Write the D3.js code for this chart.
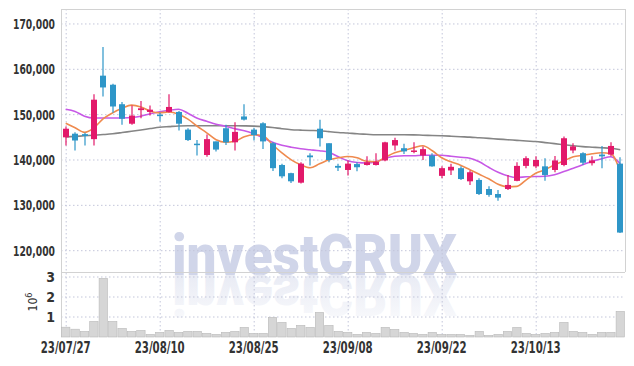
<!DOCTYPE html>
<html><head><meta charset="utf-8">
<script src="https://cdn.jsdelivr.net/npm/d3@7"></script>
<style>html,body{margin:0;padding:0;background:#fff;} svg{display:block}</style>
</head><body>
<svg id="c" width="634" height="366"></svg>
<script>
const dates = ["23/07/27","23/07/28","23/07/31","23/08/01","23/08/02","23/08/03","23/08/04","23/08/07","23/08/08","23/08/09",
"23/08/10","23/08/11","23/08/14","23/08/16","23/08/17","23/08/18","23/08/21","23/08/22","23/08/23","23/08/24",
"23/08/25","23/08/28","23/08/29","23/08/30","23/08/31","23/09/01","23/09/04","23/09/05","23/09/06","23/09/07",
"23/09/08","23/09/11","23/09/12","23/09/13","23/09/14","23/09/15","23/09/18","23/09/19","23/09/20","23/09/21",
"23/09/22","23/09/25","23/09/26","23/09/27","23/10/04","23/10/05","23/10/06","23/10/10","23/10/11","23/10/12",
"23/10/13","23/10/16","23/10/17","23/10/18","23/10/19","23/10/20","23/10/23","23/10/24","23/10/25","23/10/26"];
const open  = [145000,145800,145700,144600,158600,156600,152300,148000,151000,150600,150000,150600,150600,146700,143600,141100,144100,147000,143900,149600,146700,148100,143700,138900,137100,135000,141000,146900,143700,138700,137800,139100,138900,138900,139900,143200,142600,141800,141000,141000,136500,137700,138200,135300,135600,133600,132500,133600,135400,138700,138600,138600,137800,138900,142100,141500,139300,141200,141200,139200];
const high  = [147400,146100,146000,154500,164900,156800,152800,152000,153000,152000,150400,154500,150800,147000,144400,145600,144100,147800,148300,152300,147100,148300,143900,139200,137200,139500,141500,148900,143700,139200,139900,139500,140800,141500,144000,144900,143600,143900,143000,141500,138600,139200,138600,137700,136000,134200,133400,136700,139500,140800,140800,140400,140900,145200,143700,141700,140800,143100,143900,140600];
const low   = [143200,142100,143200,143200,154000,150400,147800,147800,149200,149800,148500,150400,146500,144200,141000,140700,141900,143300,142100,148700,144300,142400,137600,136000,134900,134800,138800,143000,139500,137600,136600,137500,138800,138800,139700,142100,141300,141500,140000,138500,136000,136700,135600,134500,132300,131900,131000,133400,135300,138200,138200,135400,137300,138600,141500,138900,138800,138200,140800,123900];
const close = [146900,144300,145300,153300,156000,151800,149100,149800,151400,151100,149700,151700,148000,144400,143300,144600,142300,143900,146200,148900,145500,144100,138200,136400,135300,139200,140600,144800,140000,138300,139200,138400,139500,139600,143900,144400,141900,142100,142400,138600,138200,138500,135800,137300,132500,132300,131700,134500,138700,140400,140000,136700,139900,144800,143000,139400,139900,140800,143100,124000];
const volume = [0.49,0.39,0.28,0.78,2.93,0.78,0.43,0.28,0.33,0.13,0.23,0.33,0.23,0.28,0.28,0.18,0.13,0.23,0.28,0.48,0.18,0.18,0.98,0.73,0.43,0.58,0.48,1.23,0.58,0.28,0.23,0.13,0.23,0.18,0.48,0.38,0.23,0.18,0.13,0.23,0.13,0.13,0.13,0.08,0.28,0.08,0.13,0.28,0.48,0.18,0.13,0.18,0.23,0.73,0.28,0.23,0.13,0.23,0.23,1.28];
const ma5  = [148100,147100,146100,147100,149100,150400,151400,152100,151700,150750,150400,150600,150100,149000,147440,146000,144460,143900,144130,145120,145560,145340,143360,141590,140040,138940,138280,139160,140040,140490,140770,140490,139710,139600,140600,141590,142140,142690,143130,142030,140490,139600,138830,137840,136840,135850,134640,134080,134190,135630,137060,137840,138940,139820,140710,141040,141370,141590,141370,137400];
const ma20 = [151190,150710,149650,149250,149250,149250,149270,149360,149650,150200,150640,150970,151190,150310,149210,148540,147880,147440,146890,146450,145780,144900,143910,143250,142810,142470,142250,142030,141700,140710,139820,139450,139340,139600,140380,140820,140930,140930,141040,141040,141040,140820,140600,140380,139600,138390,137280,136510,136140,136290,136360,136400,136730,137460,138170,138940,139710,140260,140710,139160];
const ma60 = [145080,145210,145340,145470,145610,145780,146050,146340,146620,146930,147220,147370,147510,147550,147550,147550,147550,147550,147550,147530,147480,147350,147170,146890,146670,146580,146510,146450,146250,146070,145940,145780,145670,145560,145560,145560,145560,145540,145470,145410,145340,145250,145140,145050,144900,144770,144610,144480,144330,144190,144080,143840,143620,143360,143130,142940,142820,142710,142580,142250];
const priceTicks = [120000,130000,140000,150000,160000,170000];
const volumeTicks = [1,2,3];
const xTickDates = ["23/07/27","23/08/10","23/08/25","23/09/08","23/09/22","23/10/13"];

const L=61, R=625, T=9, PB=272, VB=337;
const FONT = "'DejaVu Sans Condensed','DejaVu Sans',sans-serif";
const UP="#e2196a", DOWN="#2e96c8";
const svg = d3.select('#c');
const x = d3.scaleBand().domain(dates).range([L,R]).padding(0);
const cx = d => x(d) + x.bandwidth()/2;
const y = d3.scaleLinear().domain([115300,173300]).range([PB,T]);
const yv = d3.scaleLinear().domain([0,3.25]).range([VB,PB]);

const defs = svg.append('defs');
defs.append('clipPath').attr('id','pclip').append('rect').attr('x',L).attr('y',T).attr('width',R-L).attr('height',PB-T);
const g = defs.append('linearGradient').attr('id','refl').attr('x1',0).attr('y1',0).attr('x2',0).attr('y2',1);
g.append('stop').attr('offset','0%').attr('stop-color','#e4e7f2').attr('stop-opacity',0.15);
g.append('stop').attr('offset','100%').attr('stop-color','#e4e7f2').attr('stop-opacity',1);

// watermark
const wm = svg.append('g');
wm.append('text').attr('x',172).attr('y',275).attr('textLength',285).attr('lengthAdjust','spacingAndGlyphs')
  .attr('font-family',"Roboto, 'DejaVu Sans', sans-serif").attr('font-weight',900).attr('font-size',58)
  .attr('fill','#d0d5e9').text('investCRUX');
wm.append('text').attr('x',172).attr('y',-275).attr('transform','scale(1,-1)').attr('textLength',285).attr('lengthAdjust','spacingAndGlyphs')
  .attr('font-family',"Roboto, 'DejaVu Sans', sans-serif").attr('font-weight',900).attr('font-size',58)
  .attr('fill','url(#refl)').text('investCRUX');

// grids
const gridC = '#c3c6da';
const grid = svg.append('g');
grid.selectAll('.hp').data(priceTicks).join('line').attr('x1',L).attr('x2',R).attr('y1',d=>y(d)).attr('y2',d=>y(d))
  .attr('stroke',gridC).attr('stroke-dasharray','1.5,2.5');
grid.selectAll('.hv').data(volumeTicks).join('line').attr('x1',L).attr('x2',R).attr('y1',d=>yv(d)).attr('y2',d=>yv(d))
  .attr('stroke',gridC).attr('stroke-dasharray','1.5,2.5');
grid.selectAll('.vv').data(xTickDates).join('line').attr('x1',d=>cx(d)+0.5).attr('x2',d=>cx(d)+0.5).attr('y1',T).attr('y2',VB)
  .attr('stroke',gridC).attr('stroke-dasharray','1.5,2.5');

// frame
const fr = svg.append('g').attr('stroke','#d2d2d2').attr('fill','none');
fr.append('line').attr('x1',L+0.5).attr('x2',L+0.5).attr('y1',T).attr('y2',VB);
fr.append('line').attr('x1',R+0.5).attr('x2',R+0.5).attr('y1',T).attr('y2',PB);
fr.append('line').attr('x1',L).attr('x2',R).attr('y1',T+0.5).attr('y2',T+0.5);
fr.append('line').attr('x1',L).attr('x2',R).attr('y1',PB+0.5).attr('y2',PB+0.5);

// axes labels
const ya = svg.append('g').attr('transform',`translate(${L-6},0)`)
  .call(d3.axisLeft(y).tickValues(priceTicks).tickSize(0).tickPadding(0).tickFormat(d3.format(',')));
const yva = svg.append('g').attr('transform',`translate(${L-6},0)`)
  .call(d3.axisLeft(yv).tickValues(volumeTicks).tickSize(0).tickPadding(0).tickFormat(d3.format('d')));
const xa = svg.append('g').attr('transform',`translate(0,${VB})`)
  .call(d3.axisBottom(x).tickValues(xTickDates).tickSize(0).tickPadding(5));
[ya,yva,xa].forEach(a=>{ a.select('.domain').remove();
  a.selectAll('text').attr('font-family',FONT).attr('font-size',14).attr('font-weight','bold')
   .style('font-stretch','condensed').attr('fill','#333'); });
ya.selectAll('text').attr('textLength',42).attr('lengthAdjust','spacingAndGlyphs');
xa.selectAll('text').attr('dy','0.71em').attr('font-size',15).attr('textLength',50).attr('lengthAdjust','spacingAndGlyphs');

svg.append('text').attr('transform','translate(37,302) rotate(-90)').attr('text-anchor','middle')
  .attr('font-family',FONT).attr('font-size',12).attr('fill','#333')
  .html('10<tspan dy="-5" font-size="9">6</tspan>');

// volume bars
svg.append('g').selectAll('rect').data(dates).join('rect')
  .attr('x',d=>x(d)+0.5).attr('width',x.bandwidth()-1)
  .attr('y',(d,i)=>yv(volume[i])).attr('height',(d,i)=>yv(0)-yv(volume[i]))
  .attr('fill','#d6d6d6').attr('stroke','#b9b9b9').attr('stroke-width',0.6);

// MA lines
const pc = svg.append('g').attr('clip-path','url(#pclip)');
const line = arr => d3.line().x((d,i)=>cx(dates[i])).y(d=>y(d)).curve(d3.curveMonotoneX)(arr);
pc.append('path').attr('d',line(ma60)).attr('fill','none').attr('stroke','#858585').attr('stroke-width',1.6);
pc.append('path').attr('d',line(ma20)).attr('fill','none').attr('stroke','#c758e6').attr('stroke-width',1.6);
pc.append('path').attr('d',line(ma5)).attr('fill','none').attr('stroke','#ef8a4e').attr('stroke-width',1.6);

// candles
const bw = 6;
const cg = pc.append('g');
dates.forEach((d,i)=>{
  const col = close[i] >= open[i] ? UP : DOWN;
  const xc = Math.round(cx(d));
  cg.append('line').attr('x1',xc).attr('x2',xc).attr('y1',y(high[i])).attr('y2',y(low[i]))
    .attr('stroke',col).attr('stroke-width',1.2);
  const top = y(Math.max(open[i],close[i])), bot = y(Math.min(open[i],close[i]));
  cg.append('rect').attr('x',xc-bw/2).attr('width',bw).attr('y',top).attr('height',Math.max(1.5,bot-top)).attr('fill',col);
});
</script>
</body></html>
